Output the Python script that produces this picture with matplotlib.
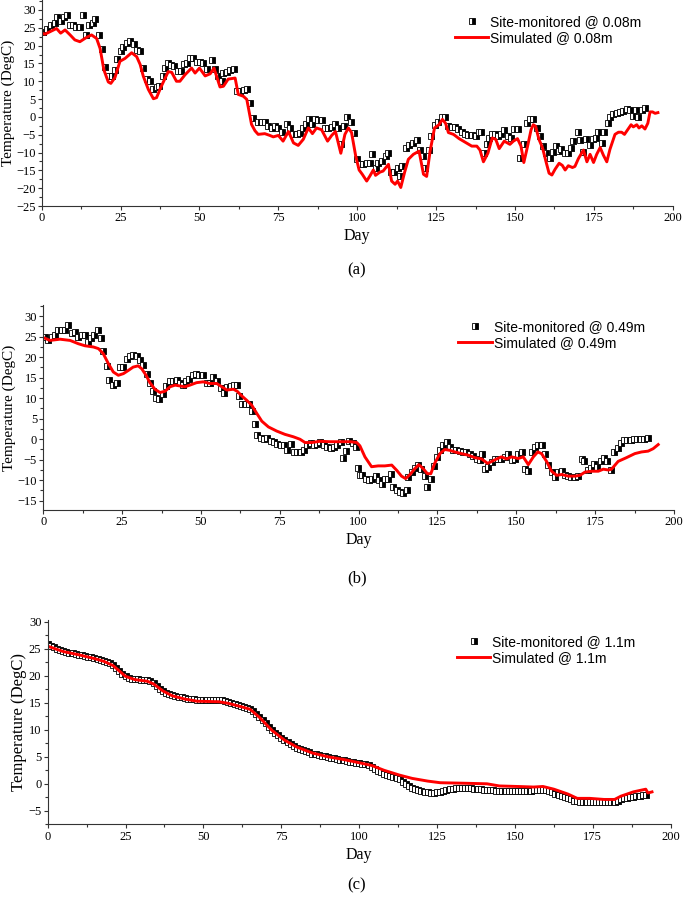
import matplotlib
matplotlib.use("Agg")
import matplotlib.pyplot as plt
from matplotlib.ticker import MultipleLocator

# ---- panel (a) : 0.08 m ----
a_obs_day = [0.5, 1.8, 3, 4.2, 5, 6.1, 7.2, 8.1, 9, 10, 11, 12.1, 13, 14, 15.1, 16.2, 17, 18, 19.1, 20.2,
             21.2, 22.3, 23.1, 24, 25.1, 25.9, 27, 28, 29.1, 30.1, 31.2, 32.2, 33.3, 34.3, 35.4, 36.4, 37.3,
             38.5, 39.1, 40, 41, 42, 43.1, 44.2, 45.2, 46.2, 47, 48, 49.1, 50.2, 51.2, 52.3, 53.9, 54.9, 56,
             57, 57.6, 58.6, 59.7, 61, 62, 63, 64.1, 65.2, 66, 67, 68.5, 69.7, 70.7, 71.8, 72.9, 73.9, 75,
             76, 77.6, 78.7, 79.8, 80.8, 81.9, 82.9, 83.7, 84.7, 85.8, 86.6, 87.7, 88.7, 89.8, 90.8, 91.9,
             92.9, 94, 94.8, 95.9, 96.9, 97.9, 99.1, 99.8, 100.9, 101.9, 103, 104, 104.8, 105.8, 106.7,
             107.8, 109, 109.9, 110.7, 111.8, 112.8, 113.6, 114.1, 115.4, 116.5, 117.6, 118.8, 119.9, 121,
             121.5, 122.6, 123.4, 124.7, 125.7, 126.8, 127.8, 128.9, 129.9, 131, 132, 133.1, 134.2, 135.2,
             136.5, 137.5, 138.6, 139.2, 140.2, 141, 141.8, 142.6, 143.7, 144.7, 145.6, 146.6, 147.7, 148.8,
             149.8, 150.9, 151.6, 153, 153.7, 154.8, 155.8, 156.9, 158, 158.8, 159.9, 161.1, 161.9, 162.9,
             163.8, 164.6, 165.7, 166.7, 167.8, 168.5, 169.9, 170.7, 171.7, 172.6, 173.8, 174.6, 175.7,
             176.4, 177.5, 178.3, 179.4, 180.1, 181.2, 182.2, 183.3, 184.3, 185.4, 186.4, 187.5, 188.2,
             189, 190.1, 191.2]
a_obs_temp = [23.9, 24.6, 25.8, 26.3, 28.1, 27.0, 28.1, 28.6, 25.8, 25.8, 25.3, 25.1, 28.6, 23.0, 25.8, 26.4,
              27.5, 23.0, 19.0, 14.1, 11.5, 11.5, 13.2, 16.2, 18.6, 19.5, 20.7, 21.2, 20.5, 18.9, 18.4, 13.8,
              10.6, 10.0, 7.8, 8.4, 8.8, 11.5, 13.8, 15.2, 14.7, 14.2, 13.0, 13.0, 14.9, 15.2, 16.4, 16.4,
              15.5, 15.5, 15.0, 13.4, 16.0, 13.4, 11.5, 10.2, 12.4, 12.7, 13.2, 13.4, 7.4, 7.4, 7.6, 7.8, 3.9,
              -0.3, -1.5, -1.3, -1.3, -2.5, -3.1, -2.6, -3.1, -4.1, -1.9, -3.1, -4.9, -4.9, -4.4, -3.1, -1.9,
              -0.7, -1.9, -0.7, -0.8, -1.0, -3.1, -3.1, -2.8, -1.9, -3.1, -7.6, -2.5, 0.1, -1.3, -4.6, -11.9,
              -13.3, -13.3, -13.0, -13.0, -10.5, -14.2, -12.8, -12.4, -11.1, -10.2, -15.6, -15.6, -14.2,
              -16.7, -13.7, -8.6, -8.0, -7.3, -6.5, -9.3, -11.1, -14.2, -9.3, -5.4, -2.2, -1.5, 0.1, 0.1,
              -2.6, -2.8, -2.8, -3.4, -4.1, -4.7, -5.2, -5.2, -5.4, -4.3, -4.3, -10.2, -7.7, -5.9, -4.9,
              -4.9, -5.4, -4.7, -3.8, -5.4, -5.9, -3.4, -3.4, -11.6, -7.5, -1.8, -0.6, -0.6, -3.1, -5.4,
              -8.2, -10.2, -11.4, -9.8, -8.2, -9.6, -9.1, -10.2, -10.2, -8.6, -6.8, -4.1, -6.5, -9.8, -6.3,
              -8.0, -6.3, -5.9, -4.3, -7.3, -4.1, -1.8, 0.1, 0.8, 1.0, 1.4, 1.7, 2.1, 1.9, 0.2, 1.9, 0.1,
              1.9, 2.6]
a_sim_day = [0, 1, 2.6, 4.7, 6, 7.4, 9, 10.5, 12.1, 14.2, 15.8, 17.4, 18.5, 19.7, 21.1, 21.9, 23.2, 24.8,
             26.4, 28.5, 30.1, 31.2, 32.2, 33.8, 35.4, 36.4, 37.7, 40.1, 41.2, 42.7, 43.8, 45.4, 47.5, 48.6,
             50, 51.8, 53.4, 54.6, 56.5, 57.6, 59.1, 61.3, 62.3, 63.9, 65, 66.5, 67.6, 68.6, 70.7, 72.3,
             73.4, 75, 76.5, 78.2, 79.8, 81.3, 82.9, 84.5, 85.8, 87.1, 88.7, 90.6, 91.9, 93.1, 94.8, 96.1,
             97.2, 98.2, 99.5, 100.6, 101.6, 103, 104, 105.1, 105.8, 107.2, 108.2, 109.9, 110.9, 112, 112.8,
             113.8, 115, 116.2, 117.8, 119.6, 121, 122, 123.1, 124.5, 125.9, 127, 128, 128.9, 130.5, 132.3,
             134, 136.3, 137.9, 138.9, 140, 141.4, 142.8, 143.9, 145, 146.6, 148.4, 149.5, 150.8, 151.9,
             152.8, 154, 155.1, 155.8, 156.5, 157.6, 158.7, 159.9, 160.8, 161.7, 162.7, 164, 165, 165.9,
             166.9, 168.2, 169, 170.1, 171.7, 172.8, 173.8, 174.9, 175.9, 177, 178, 179.1, 180.1, 181.7,
             182.8, 183.8, 184.7, 185.7, 186.8, 187.5, 188.6, 189.3, 190.2, 191.2, 192.1, 192.8, 193.6,
             194.4, 195.3]
a_sim_temp = [23.5, 23.2, 23.9, 24.8, 23.5, 24.4, 23.0, 21.6, 21.1, 22.3, 23.0, 22.0, 19.2, 13.2, 9.8, 9.4,
              11.0, 15.6, 16.4, 18.0, 16.9, 14.7, 11.4, 7.7, 5.1, 5.4, 8.2, 12.7, 12.5, 10.0, 10.0, 11.8,
              13.7, 12.3, 13.7, 11.5, 12.1, 13.7, 8.4, 8.6, 10.6, 10.9, 6.3, 5.8, 4.9, -2.1, -3.9, -4.9,
              -4.7, -5.2, -5.6, -5.2, -6.8, -4.1, -7.3, -8.0, -6.3, -3.1, -4.7, -3.1, -3.6, -6.8, -5.2,
              -4.1, -10.2, -4.9, -3.1, -4.4, -10.9, -14.9, -16.1, -18.0, -16.6, -14.9, -16.4, -15.5,
              -15.2, -13.3, -18.0, -18.9, -18.0, -19.8, -15.6, -11.9, -10.5, -9.6, -16.1, -16.7, -9.6,
              -3.1, -2.2, -0.7, -1.8, -4.4, -4.9, -6.1, -7.0, -8.2, -8.2, -9.3, -12.6, -10.2, -5.9, -6.3,
              -8.9, -6.8, -7.7, -6.8, -6.1, -8.2, -12.8, -8.2, -3.6, -2.2, -2.6, -6.3, -8.6, -12.8, -15.8,
              -16.3, -14.7, -13.0, -13.6, -14.9, -13.7, -14.2, -13.9, -11.7, -9.3, -12.6, -10.5, -12.8,
              -10.5, -8.6, -10.7, -12.6, -9.1, -4.9, -4.3, -4.3, -4.9, -3.6, -2.2, -2.8, -2.2, -3.1, -2.5,
              -3.4, -1.8, 1.4, 1.4, 1.0, 1.2]

# ---- panel (b) : 0.49 m ----
b_obs_day = [0.5, 1.6, 2.7, 3.7, 4.8, 5.8, 6.9, 7.9, 9, 10, 11.1, 12.2, 13.2, 14.3, 15.1, 16.2, 17.2, 18.2,
             19, 20.1, 20.9, 22, 23.3, 24.3, 25.4, 26.4, 27.5, 28.5, 29.6, 30.7, 31.7, 32.8, 33.8, 34.9,
             35.7, 36.8, 37.9, 38.9, 40.2, 41.2, 42.3, 43.3, 44.4, 45.2, 46.3, 47.4, 48.4, 49.5, 50.7,
             51.8, 52.9, 53.9, 55, 56.2, 57.3, 58.4, 59.4, 60.5, 61.5, 62.1, 63.1, 64.2, 65.2, 66.1, 67.1,
             67.9, 68.9, 70, 71, 72.1, 73.2, 74.2, 75.3, 76.3, 77.4, 78.4, 79.5, 80.6, 81.6, 82.7, 83.7,
             84.8, 85.8, 86.9, 87.9, 89, 90, 91.1, 92.2, 93.2, 94.3, 94.9, 96, 97.1, 98.1, 99.2, 99.7,
             100.4, 101.2, 102.2, 103.3, 104.3, 105.4, 106.4, 107.3, 108.3, 109.2, 110.2, 111, 112.1,
             113.1, 114.2, 115.2, 115.7, 116.8, 117.8, 118.9, 119.9, 121, 121.8, 122.9, 123.9, 124.7,
             125.8, 126.8, 127.9, 128.9, 130, 131, 132.1, 133.2, 134.2, 135.3, 136.3, 137.4, 138.5, 139,
             140, 141.1, 142.2, 143.2, 144.3, 145.3, 146.4, 147.5, 148.5, 149.6, 150.6, 151.7, 152.7,
             153.8, 154.9, 155.9, 157, 158, 159.1, 160.1, 161.2, 162.2, 163.3, 164.4, 165.4, 166.5, 167.5,
             168.6, 169.6, 170.7, 171.5, 172.6, 173.6, 174.7, 175.7, 176.8, 177.8, 178.9, 179.9, 181,
             182.1, 183.1, 184.2, 185.2, 186.3, 187.4, 188.4, 189.5, 190.5, 191.8]
b_obs_temp = [24.9, 24.1, 24.9, 25.5, 26.6, 26.6, 26.6, 27.8, 25.8, 26.2, 24.9, 25.4, 25.4, 23.6, 24.6, 25.5,
              26.6, 24.7, 21.5, 17.9, 14.4, 13.2, 13.6, 17.7, 17.7, 19.5, 20.3, 20.6, 20.3, 19.3, 18.2,
              16.0, 13.6, 11.7, 10.1, 9.8, 11.1, 13.0, 14.2, 14.2, 14.4, 13.8, 13.3, 14.2, 14.8, 15.6, 16.0,
              15.6, 15.6, 13.6, 13.6, 15.2, 14.2, 12.4, 11.4, 12.8, 13.0, 13.2, 13.3, 10.6, 8.5, 8.5, 8.7,
              6.8, 3.6, 1.1, 0.2, 0.0, 0.2, -0.5, -0.6, -1.1, -1.3, -1.5, -2.7, -1.1, -3.2, -3.2, -3.1,
              -2.7, -1.5, -0.8, -1.5, -1.1, -0.6, -1.3, -1.9, -2.1, -1.9, -1.3, -0.6, -4.6, -2.9, -0.5,
              -0.8, -1.9, -7.0, -8.8, -8.8, -9.8, -10.0, -9.8, -9.0, -10.0, -11.0, -9.6, -9.6, -8.4, -11.6,
              -12.4, -12.8, -13.2, -12.4, -9.2, -8.0, -7.0, -6.4, -7.3, -9.0, -11.6, -9.6, -6.5, -4.3, -2.7,
              -1.3, -0.6, -1.9, -2.7, -2.7, -2.9, -3.1, -3.2, -3.7, -4.0, -4.8, -5.1, -3.5, -7.3, -6.7,
              -5.6, -4.7, -4.8, -4.8, -4.3, -3.7, -5.1, -4.8, -3.5, -3.1, -7.3, -7.8, -3.1, -1.9, -1.3,
              -1.5, -3.5, -6.3, -8.1, -9.2, -8.0, -7.8, -8.8, -9.0, -9.2, -9.2, -9.0, -4.8, -5.4, -7.5,
              -7.1, -6.1, -6.7, -5.4, -4.5, -5.4, -7.5, -3.1, -2.1, -0.8, -0.2, -0.2, -0.2, 0.0, 0.0, 0.0,
              0.0, 0.3]
b_sim_day = [0, 2.1, 5.3, 8.5, 11.1, 13.2, 15.9, 17.5, 19, 20.6, 22.2, 23.8, 25.4, 27, 28.5, 30.1, 31.2,
             32.6, 33.8, 35.4, 37, 38.6, 40.2, 41.8, 43.3, 44.9, 46.5, 48.6, 50.7, 52.9, 55, 56.6, 58.2,
             60.3, 61.5, 62.9, 64.5, 66.1, 67.7, 69.3, 71.4, 74, 76.6, 79.3, 81.4, 83, 85.1, 87.7, 90.9,
             94.1, 97.3, 99.4, 100.4, 102, 104.1, 106.2, 108.3, 110.5, 112.1, 113.6, 114.9, 116.3, 117.8,
             119.1, 120.5, 121.8, 122.9, 124.1, 125.8, 127.3, 128.9, 130.5, 132.6, 134.8, 136.9, 139,
             140.9, 142.2, 143.8, 145.3, 146.9, 148.5, 150.6, 152.2, 153.8, 155.4, 156.8, 158, 159.6,
             161.2, 162.8, 164.4, 166.5, 168.6, 170.2, 171.8, 173.9, 176, 177.6, 179.2, 180.2, 182.3,
             184.9, 187.6, 189.7, 191.8, 193.4, 195]
b_sim_temp = [24.8, 24.1, 24.4, 24.1, 23.3, 22.8, 22.5, 22.1, 20.9, 18.5, 16.4, 15.6, 16.0, 16.8, 17.6,
              17.9, 17.2, 15.6, 13.8, 12.2, 11.4, 11.7, 12.8, 13.2, 13.0, 12.8, 13.2, 13.8, 14.0, 13.6,
              13.6, 12.8, 12.0, 12.2, 11.7, 10.6, 9.5, 8.3, 6.3, 4.4, 3.0, 2.0, 1.2, 0.6, 0.0, -0.8, -0.8,
              -0.5, -0.6, -0.6, -0.6, -0.8, -1.6, -4.3, -6.7, -6.5, -6.5, -6.3, -7.6, -9.0, -9.6, -8.6,
              -7.2, -6.2, -7.2, -8.4, -8.4, -5.9, -3.5, -2.5, -2.7, -3.1, -3.5, -3.9, -4.5, -4.8, -5.9,
              -5.4, -4.8, -4.3, -4.8, -4.3, -4.7, -4.3, -6.2, -4.3, -3.1, -3.5, -5.4, -7.8, -8.8, -8.6,
              -9.0, -9.0, -8.8, -8.0, -7.8, -7.8, -7.3, -7.5, -7.3, -5.4, -4.5, -3.5, -3.1, -2.9, -2.3,
              -1.3]

# ---- panel (c) : 1.1 m ----
c_obs_day = list(range(0, 193))
c_obs_temp = [25.9, 25.6, 25.3, 25.0, 24.8, 24.6, 24.4, 24.3, 24.2, 24.0, 23.9, 23.8, 23.6, 23.5, 23.4,
              23.3, 23.2, 23.0, 22.8, 22.6, 22.3, 22.0, 21.5, 20.9, 20.3, 19.9, 19.6, 19.5, 19.4, 19.4,
              19.3, 19.3, 19.2, 19.0, 18.6, 18.1, 17.6, 17.2, 16.9, 16.6, 16.4, 16.2, 16.1, 16.0, 15.9,
              15.8, 15.7, 15.7, 15.6, 15.6, 15.6, 15.6, 15.6, 15.6, 15.6, 15.6, 15.5, 15.4, 15.2, 15.0,
              14.8, 14.6, 14.4, 14.3, 14.1, 13.9, 13.5, 13.0, 12.4, 11.8, 11.2, 10.6, 10.0, 9.5, 9.0, 8.5,
              8.1, 7.7, 7.3, 7.0, 6.7, 6.4, 6.2, 6.0, 5.8, 5.6, 5.5, 5.3, 5.2, 5.1, 5.0, 4.8, 4.7, 4.6,
              4.5, 4.4, 4.2, 4.1, 4.0, 3.9, 3.8, 3.7, 3.6, 3.5, 3.1, 2.7, 2.4, 2.1, 1.9, 1.7, 1.5, 1.3,
              1.1, 0.8, 0.4, 0.0, -0.5, -0.8, -1.0, -1.2, -1.3, -1.5, -1.6, -1.7, -1.7, -1.6, -1.5, -1.3,
              -1.1, -1.0, -0.9, -0.8, -0.8, -0.7, -0.7, -0.7, -0.8, -0.9, -1.0, -1.0, -1.1, -1.1, -1.2,
              -1.2, -1.3, -1.3, -1.3, -1.3, -1.3, -1.3, -1.3, -1.3, -1.3, -1.3, -1.3, -1.3, -1.2, -1.2,
              -1.1, -1.1, -1.2, -1.4, -1.6, -1.8, -2.0, -2.3, -2.5, -2.7, -2.9, -3.1, -3.2, -3.3, -3.3,
              -3.3, -3.3, -3.3, -3.3, -3.3, -3.3, -3.3, -3.3, -3.3, -3.3, -3.1, -2.9, -2.7, -2.6, -2.5,
              -2.4, -2.3, -2.2, -2.1, -2.0]
c_sim_day = [0, 5, 10, 15, 18, 21, 23, 25, 28, 32, 34, 37, 40, 44, 48, 55, 58, 62, 65, 68, 72, 76, 80, 85,
             90, 95, 100, 104, 108, 113, 117, 122, 126, 134, 141, 145, 151, 156, 159, 162.5, 167, 170, 174,
             178.6, 182, 184, 188, 192, 192.7, 194]
c_sim_temp = [25.5, 24.5, 23.9, 23.2, 22.7, 21.9, 20.9, 19.9, 19.3, 19.0, 18.5, 17.2, 16.3, 15.7, 15.3, 15.2,
              14.9, 14.3, 13.8, 12.3, 9.9, 8.1, 6.8, 5.7, 5.0, 4.5, 3.9, 3.4, 2.5, 1.6, 1.0, 0.5, 0.2, 0.1,
              0.0, -0.4, -0.5, -0.6, -0.5, -1.0, -1.9, -2.7, -2.7, -2.9, -2.9, -2.3, -1.5, -1.0, -1.7, -1.5]

panels = [
    dict(obs=(a_obs_day, a_obs_temp), sim=(a_sim_day, a_sim_temp), depth="0.08m", tag="(a)",
         rect=[0.0609, 0.7706, 0.9212, 0.2294], ylim=(-25, 32.8), ms=5,
         leg=(0.664, 0.983), lab_y=270, ylab_fs=11),
    dict(obs=(b_obs_day, b_obs_temp), sim=(b_sim_day, b_sim_temp), depth="0.49m", tag="(b)",
         rect=[0.0632, 0.4321, 0.9207, 0.2283], ylim=(-17.25, 32.75), ms=5,
         leg=(0.669, 0.6437), lab_y=578, ylab_fs=11),
    dict(obs=(c_obs_day, c_obs_temp), sim=(c_sim_day, c_sim_temp), depth="1.1m", tag="(c)",
         rect=[0.0696, 0.0821, 0.9095, 0.2272], ylim=(-7.5, 30.3), ms=4,
         leg=(0.667, 0.2929), lab_y=885, ylab_fs=12),
]

serif = "Liberation Serif"
sans = "Liberation Sans"

fig = plt.figure(figsize=(6.85, 8.98), dpi=100)

for p in panels:
    ax = fig.add_axes(p["rect"])
    ax.plot(p["obs"][0], p["obs"][1], linestyle="none", marker="s", ms=p["ms"],
            fillstyle="right", markerfacecolor="black", markerfacecoloralt="white",
            markeredgecolor="black", markeredgewidth=0.6,
            label="Site-monitored @ " + p["depth"])
    ax.plot(p["sim"][0], p["sim"][1], color="#ff0000", lw=2.1,
            label="Simulated @ " + p["depth"])

    ax.set_xlim(0, 200)
    ax.set_ylim(*p["ylim"])
    ax.xaxis.set_major_locator(MultipleLocator(25))
    ax.xaxis.set_minor_locator(MultipleLocator(12.5))
    ax.yaxis.set_major_locator(MultipleLocator(5))
    ax.yaxis.set_minor_locator(MultipleLocator(2.5))
    for s in ["top", "right"]:
        ax.spines[s].set_visible(False)
    for s in ["left", "bottom"]:
        ax.spines[s].set_linewidth(0.8)
        ax.spines[s].set_color("#333333")
    ax.tick_params(which="major", direction="out", length=3, width=0.8, colors="#333333",
                   labelcolor="black", labelsize=9, pad=1.5)
    ax.tick_params(which="minor", direction="out", length=2, width=0.8, colors="#333333")
    for t in ax.get_xticklabels() + ax.get_yticklabels():
        t.set_fontfamily(serif)

    ax.set_xlabel("Day", fontfamily=serif, fontsize=11.5, labelpad=3)
    ax.set_ylabel("Temperature (DegC)", fontfamily=serif, fontsize=p["ylab_fs"], labelpad=1)

    ax.legend(loc="upper left", bbox_to_anchor=p["leg"], bbox_transform=fig.transFigure,
              frameon=False, prop={"family": sans, "size": 10}, numpoints=1,
              handlelength=2.4, handletextpad=0.15, labelspacing=0.15,
              borderpad=0, borderaxespad=0)

    fig.text(357 / 685, 1 - p["lab_y"] / 898, p["tag"], ha="center", va="center",
             fontfamily=serif, fontsize=12)

fig.savefig("out.png", dpi=100)
